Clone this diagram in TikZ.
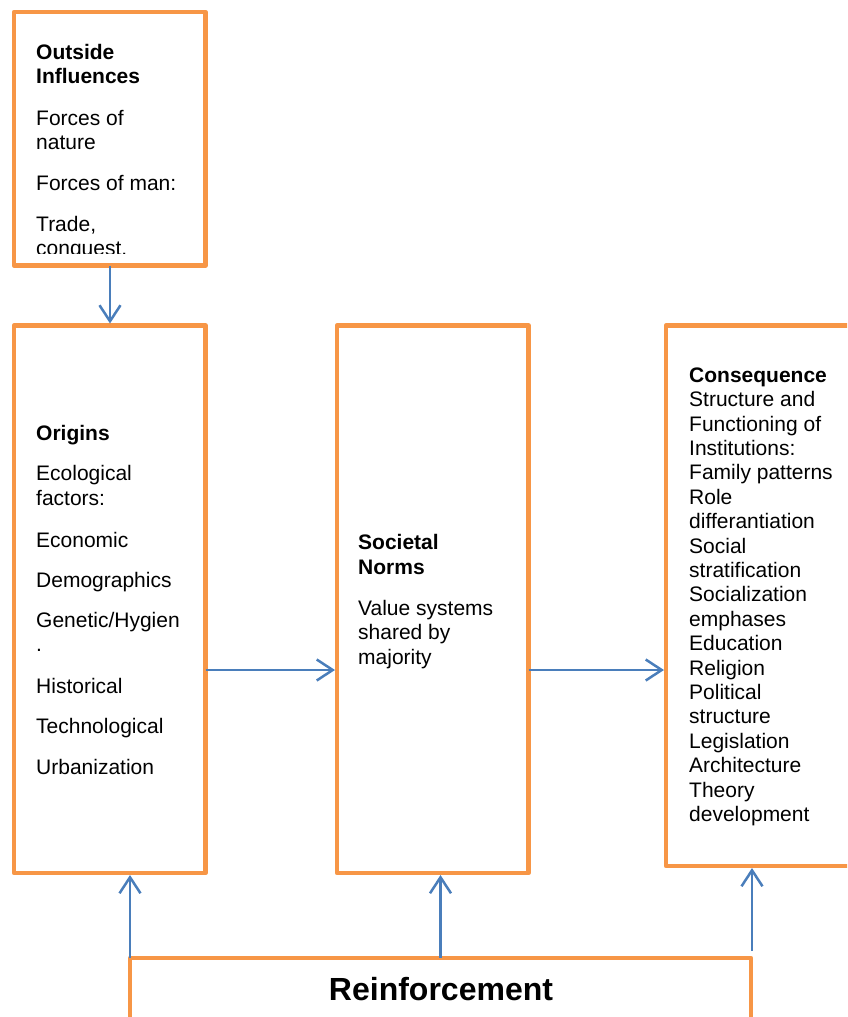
\documentclass[tikz,border=0pt]{standalone}
\usepackage{fontspec}
\setmainfont{Liberation Sans}
\usetikzlibrary{arrows.meta}
\definecolor{boxorange}{HTML}{F79646}
\definecolor{arrowblue}{HTML}{4A7EBB}
\tikzset{
  box/.style={draw=boxorange, line width=4.5pt, line join=round, rectangle, inner sep=0pt, outer sep=0pt, anchor=north west},
  txt/.style={anchor=north west, inner sep=0pt, align=left, font=\fontsize{21}{24.4}\selectfont},
  arr/.style={draw=arrowblue, line width=2.5pt, shorten >=2pt, -{Straight Barb[length=16pt,width=21pt,line width=2.5pt]}}
}
\begin{document}
\begin{tikzpicture}[x=1pt,y=-1pt]
\clip (0,0) rectangle (847,1017);
% boxes (line-centre corners)
\node[box, minimum width=191.5pt, minimum height=253.5pt] (outside) at (14,12) {};
\node[box, minimum width=191.5pt, minimum height=547.5pt] (orig) at (14,325.5) {};
\node[box, minimum width=191.5pt, minimum height=547.5pt] (soc) at (337,325.5) {};
\node[box, minimum width=220pt, minimum height=540.5pt] (cons) at (666,325.5) {};
\node[box, minimum width=621pt, minimum height=100pt] (reinf) at (130,958) {};
% texts
\begin{scope}
\clip (16,14) rectangle (204,253);
\node[txt] (outsidetxt) at (36,44) {\textbf{Outside}\\\textbf{Influences}\\[17pt]Forces of\\nature\\[16.5pt]Forces of man:\\[16.5pt]Trade,\\conquest.};
\end{scope}
\node[txt] (origtxt) at (36,425.5) {\textbf{Origins}\\[15.6pt]Ecological\\factors:\\[17.6pt]Economic\\[15.6pt]Demographics\\[15.6pt]Genetic/Hygien\\.\\[17.6pt]Historical\\[15.6pt]Technological\\[16.6pt]Urbanization};
\node[txt] (soctxt) at (358,534.5) {\textbf{Societal}\\\textbf{Norms}\\[16.6pt]Value systems\\shared by\\majority};
\node[txt] (constxt) at (689,367.5) {\textbf{Consequence}\\Structure and\\Functioning of\\Institutions:\\Family patterns\\Role\\differantiation\\Social\\stratification\\Socialization\\emphases\\Education\\Religion\\Political\\structure\\Legislation\\Architecture\\Theory\\development};
\node[anchor=base, inner sep=0pt, font=\fontsize{32}{36}\selectfont\bfseries] (reinftxt) at (441,1000) {Reinforcement};
% connectors
\coordinate (hline) at (0,670);
\coordinate (rstart) at (752,951);
\draw[arr] (outside.south -| 110,0) -- (orig.north -| 110,0);
\draw[arr] (orig.east |- hline) -- (soc.west |- hline);
\draw[arr] (soc.east |- hline) -- (cons.west |- hline);
\draw[arr] (reinf.north west) -- (reinf.north west |- orig.south);
\draw[arr] (reinf.north) -- (reinf.north |- soc.south);
\draw[arr] (rstart) -- (rstart |- cons.south);
\end{tikzpicture}
\end{document}
